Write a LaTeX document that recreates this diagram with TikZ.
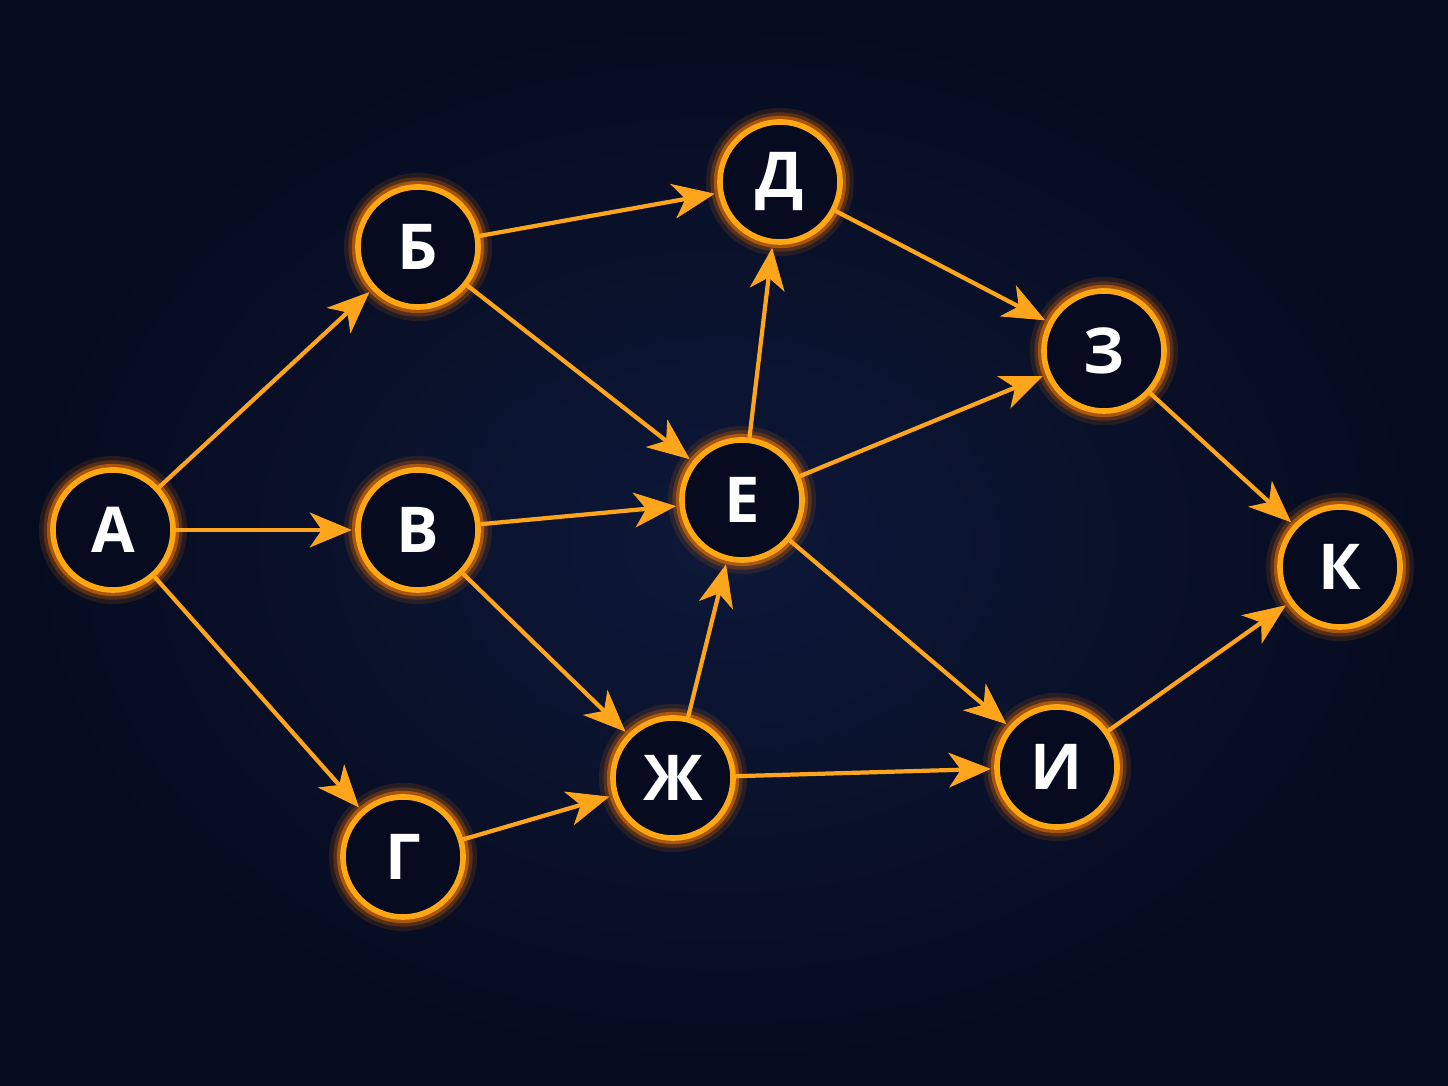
\documentclass[tikz,border=0pt]{standalone}
\usepackage{fontspec}
\newfontfamily\nodefont{Open Sans}
\usepackage{tikz}
\usetikzlibrary{positioning, arrows.meta}

\definecolor{bgin}{HTML}{0D1838}
\definecolor{bgout}{HTML}{060B1F}
\definecolor{ring}{HTML}{FFA814}
\definecolor{glow}{HTML}{FF7A00}
\definecolor{linkc}{HTML}{FFA51C}

\tikzset{
    vertex/.style={circle, draw=ring, line width=3.2pt, fill=bgout, minimum size=2.4cm, inner sep=0pt,
        font=\nodefont\bfseries\fontsize{36}{40}\selectfont, text=white,
        preaction={draw=glow, line width=16pt, opacity=0.12},
        preaction={draw=glow, line width=11pt, opacity=0.22},
        preaction={draw=glow, line width=7pt, opacity=0.5}},
    link/.style={draw=linkc, line width=2.4pt, shorten >=2pt,
        -{Stealth[length=24pt, width=20pt, inset=7pt, fill=linkc, line width=0.5pt]}}
}

\begin{document}
\begin{tikzpicture}[on grid]
        \shade[inner color=bgin, outer color=bgout] (0,0) rectangle (28.96,21.72);
        \useasboundingbox (0,0) rectangle (28.96,21.72);

        \node[vertex](a) at (2.26,11.12){А};
        \node[vertex](b)[above right = 5.66cm and 6.1cm of a]{Б};
        \node[vertex](v)[right = 6.1cm of a]{В};
        \node[vertex](g)[below right = 6.54cm and 5.8cm of a]{Г};
        \node[vertex](d)[above right = 1.3cm and 7.24cm of b]{Д};
        \node[vertex](e)[above right = 0.6cm and 6.48cm of v]{Е};
        \node[vertex](zh)[above right = 1.58cm and 5.4cm of g]{Ж};
        \node[vertex](z)[below right = 3.38cm and 6.48cm of d]{З};
        \node[vertex](i)[above right = 0.22cm and 7.68cm of zh]{И};
        \node[vertex](k)[above right = 4cm and 5.66cm of i]{К};

        \path[link]
        (a) edge (b)
        (a) edge (v)
        (a) edge (g)
        (b) edge (d)
        (b) edge (e)
        (v) edge (e)
        (v) edge (zh)
        (g) edge (zh)
        (zh) edge (e)
        (e) edge (d)
        (d) edge (z)
        (e) edge (z)
        (e) edge (i)
        (zh) edge (i)
        (z) edge (k)
        (i) edge (k);
    \end{tikzpicture}
\end{document}
